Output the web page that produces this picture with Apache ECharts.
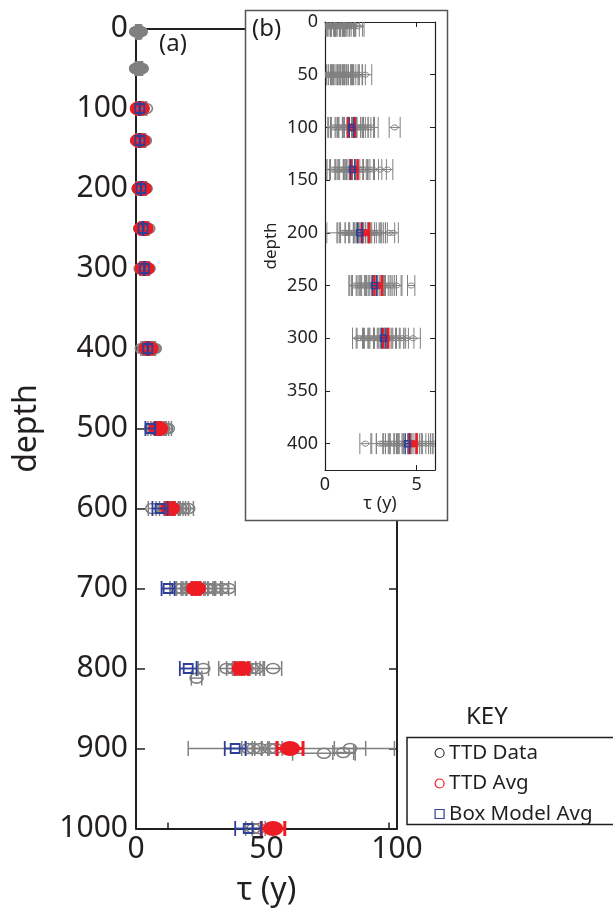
<!DOCTYPE html>
<html>
<head>
<meta charset="utf-8">
<script src="https://cdn.jsdelivr.net/npm/echarts@6/dist/echarts.min.js"></script>
<style>
html, body { margin: 0; padding: 0; background: #fff; }
#main { width: 613px; height: 912px; }
</style>
</head>
<body>
<div id="main"></div>
<script>
// TTD data per depth: [tau, error]  (an optional 3rd entry shifts the depth)
const ttd004 = [[0.1,0.2],[0.18,0.35],[0.25,0.3],[0.33,0.45],[0.4,0.25],[0.46,0.4],[0.52,0.3],[0.6,0.5],[0.66,0.35],[0.71,0.25],[0.8,0.45],[0.86,0.3],[0.93,0.4],[1.0,0.35],[1.07,0.5],[1.13,0.3],[1.22,0.4],[1.3,0.35],[1.38,0.3],[1.47,0.4],[1.58,0.55],[1.8,0.25]];
const ttd050 = [[0.05,0.3],[0.15,0.4],[0.22,0.25],[0.3,0.45],[0.38,0.3],[0.45,0.5],[0.52,0.35],[0.6,0.4],[0.68,0.3],[0.75,0.45],[0.83,0.35],[0.9,0.5],[0.98,0.3],[1.05,0.4],[1.12,0.45],[1.2,0.35],[1.3,0.5],[1.38,0.3],[1.47,0.4],[1.6,0.45],[1.72,0.3],[1.85,0.35],[2.2,0.35]];
const ttd100 = [[0.45,0.3],[0.6,0.4],[0.7,0.35],[0.8,0.5],[0.9,0.3],[1.0,0.45],[1.1,0.35],[1.18,0.5],[1.25,0.3],[1.35,0.4],[1.5,0.45],[1.6,0.35],[1.7,0.5],[1.8,0.3],[1.9,0.45],[2.0,0.35],[2.1,0.4],[2.2,0.5],[2.35,0.3],[2.5,0.4],[3.8,0.3]];
const ttd140 = [[0.4,0.3],[0.55,0.45],[0.65,0.35],[0.75,0.5],[0.85,0.3],[0.95,0.4],[1.05,0.45],[1.15,0.35],[1.25,0.5],[1.35,0.3],[1.5,0.4],[1.62,0.45],[1.72,0.35],[1.85,0.5],[1.95,0.3],[2.05,0.4],[2.2,0.45],[2.4,0.3],[2.62,0.3],[3.0,0.35],[3.4,0.3]];
const ttd200 = [[1.0,0.3],[1.1,0.45],[1.2,0.35],[1.3,0.5],[1.4,0.3],[1.5,0.4],[1.6,1.5],[1.7,0.35],[1.8,0.5],[1.9,0.3],[2.0,0.45],[2.1,0.4],[2.2,0.35],[2.3,0.5],[2.4,0.3],[2.5,0.45],[2.6,0.4],[2.7,0.35],[2.85,0.45],[3.0,0.3],[3.5,0.3],[3.7,0.3]];
const ttd250 = [[1.6,0.3],[1.75,0.4],[1.85,0.35],[1.95,0.5],[2.05,0.3],[2.15,0.45],[2.25,0.4],[2.35,0.35],[2.45,0.5],[2.55,0.3],[2.7,0.45],[2.8,0.4],[2.95,0.35],[3.05,0.5],[3.15,0.3],[3.25,0.45],[3.4,0.4],[3.55,0.35],[3.7,0.45],[3.9,0.3],[4.7,0.2]];
const ttd300 = [[1.8,0.3],[1.95,0.45],[2.1,0.35],[2.2,0.5],[2.35,0.3],[2.45,0.4],[2.6,0.45],[2.7,0.35],[2.85,0.5],[2.95,0.3],[3.05,0.4],[3.15,0.45],[3.3,0.35],[3.4,0.5],[3.55,0.3],[3.7,0.4],[3.85,0.45],[4.0,0.3],[4.2,0.35],[4.45,0.4],[4.8,0.4]];
const ttd400 = [[2.2,0.3],[3.0,0.45],[3.15,0.35],[3.3,0.5],[3.45,0.3],[3.6,0.4],[3.75,0.45],[3.9,0.35],[4.05,0.5],[4.2,0.3],[4.35,0.4],[4.5,0.45],[4.65,0.35],[4.8,0.5],[4.95,0.3],[5.1,0.4],[5.3,0.45],[5.5,0.35],[5.7,0.4],[5.95,0.3],[6.3,0.4],[6.8,0.35],[7.2,0.3]];
const ttd500 = [[5.8,1.2],[7.2,1.5],[8.0,1.0],[9.5,1.8],[10.4,1.2],[11.5,1.0],[12.2,1.4]];
const ttd600 = [[6.2,1.5],[11.0,2.0],[12.5,1.8],[14.0,2.2],[15.2,1.5],[17.0,2.0],[18.5,1.6],[20.0,2.0]];
const ttd700 = [[15.5,2.5],[17.5,2.0],[19.5,2.2],[21.0,2.0],[24.0,2.5],[25.5,2.0],[27.0,2.5],[28.0,2.0],[30.0,2.4],[33.0,2.5],[35.5,2.5]];
const ttd800 = [[25.8,2.0],[23.2,2.0,812],[34.7,3.0],[37.2,2.5],[40.0,3.0],[42.4,3.5],[44.5,3.0],[46.2,2.5],[52.5,3.3]];
const ttd900 = [[43.0,2.5],[45.0,3.0],[47.5,3.0],[51.3,3.0],[53.5,2.5],[59.5,39.5],[72.0,12.0,906],[79.4,4.0,905],[82.0,6.0]];
const ttd1000 = [[45.0,3.0],[47.0,2.5]];

const ttdDepths = [4, 50, 100, 140, 200, 250, 300, 400, 500, 600, 700, 800, 900, 1000];
const ttdRows = [ttd004, ttd050, ttd100, ttd140, ttd200, ttd250, ttd300, ttd400, ttd500, ttd600, ttd700, ttd800, ttd900, ttd1000];

// averages
const avgDepths = [100, 140, 200, 250, 300, 400, 500, 600, 700, 800, 900, 1000];
const ttdAvgTau = [1.45, 1.6, 2.2, 2.9, 3.3, 4.8, 8.5, 13.0, 23.0, 40.5, 59.0, 52.5];
const ttdAvgErr = [0.18, 0.18, 0.2, 0.2, 0.15, 0.2, 1.0, 1.5, 1.5, 2.5, 5.0, 4.5];
const boxAvgTau = [1.45, 1.5, 1.9, 2.7, 3.2, 4.5, 5.5, 9.2, 12.3, 20.0, 38.0, 43.0];
const boxAvgErr = [0.12, 0.12, 0.12, 0.12, 0.12, 0.12, 1.9, 2.9, 2.5, 3.2, 4.0, 5.0];

const mainTicksX = [12, 97];
const insetDepthTicks = [0, 50, 100, 150, 200, 250, 300, 350, 400];
const insetTauTicks = [0, 5];

const INK = '#231f20', GREY = '#808080', RED = '#ed1c24', BLUE = '#2e3f97';
const FONT = 'Noto Sans';

function ttdBars(maxDepth) {
  const bars = [];
  ttdRows.forEach((row, i) => {
    if (ttdDepths[i] > maxDepth) return;
    row.forEach(r => {
      const d = r[2] ?? ttdDepths[i];
      bars.push([r[0], d, r[0] - r[1], r[0] + r[1]]);
    });
  });
  return bars;
}
function avgBars(tau, err, maxDepth) {
  const bars = [];
  avgDepths.forEach((d, i) => {
    if (d > maxDepth) return;
    bars.push([tau[i], d, tau[i] - err[i], tau[i] + err[i]]);
  });
  return bars;
}

// error bar with end caps plus the marker, all through the axis scales
function markRender(opt) {
  return (params, api) => {
    const d = api.value(1);
    const c = api.coord([api.value(0), d]);
    const a = api.coord([api.value(2), d]);
    const b = api.coord([api.value(3), d]);
    const h = opt.cap / 2;
    const bar = { stroke: opt.color, lineWidth: opt.lw, fill: null };
    const mk = { stroke: opt.color, lineWidth: opt.bw, fill: 'rgba(0,0,0,0)' };
    const marker = opt.rect
      ? { type: 'rect', shape: { x: c[0] - opt.w / 2, y: c[1] - opt.h / 2, width: opt.w, height: opt.h }, style: mk }
      : { type: 'ellipse', shape: { cx: c[0], cy: c[1], rx: opt.w / 2, ry: opt.h / 2 }, style: mk };
    return {
      type: 'group',
      children: [
        { type: 'line', shape: { x1: a[0], y1: a[1], x2: b[0], y2: b[1] }, style: bar },
        { type: 'line', shape: { x1: a[0], y1: a[1] - h, x2: a[0], y2: a[1] + h }, style: bar },
        { type: 'line', shape: { x1: b[0], y1: b[1] - h, x2: b[0], y2: b[1] + h }, style: bar },
        marker,
      ],
    };
  };
}

function layerSeries(xi, yi, maxDepth, sz, z, clip) {
  const base = { type: 'custom', xAxisIndex: xi, yAxisIndex: yi, clip: clip, silent: true, animation: false,
    encode: { x: 0, y: 1 } };
  return [
    { ...base, name: 'TTD Data', z: z, data: ttdBars(maxDepth),
      renderItem: markRender({ color: GREY, cap: sz.cap, lw: sz.lw, w: sz.grey[0], h: sz.grey[1], bw: sz.greyBw }) },
    { ...base, name: 'TTD Avg', z: z + 1, data: avgBars(ttdAvgTau, ttdAvgErr, maxDepth),
      renderItem: markRender({ color: RED, cap: sz.cap, lw: sz.redLw, w: sz.red[0], h: sz.red[1], bw: sz.redBw }) },
    { ...base, name: 'Box Model Avg', z: z + 2, data: avgBars(boxAvgTau, boxAvgErr, maxDepth),
      renderItem: markRender({ color: BLUE, cap: sz.cap, lw: sz.blueLw, w: sz.blue[0], h: sz.blue[1], bw: sz.blueBw, rect: true }) },
  ];
}

const mainSize = { cap: 15, lw: 1.5, grey: [13, 10], greyBw: 1.6, red: [14, 9], redBw: 6, redLw: 3, blue: [9, 9], blueBw: 1.8, blueLw: 1.8 };
const insetSize = { cap: 21, lw: 1, grey: [7, 5], greyBw: 1, red: [6, 5], redBw: 2.5, redLw: 2.5, blue: [6, 6], blueBw: 1.5, blueLw: 1.2 };

const plain = v => String(v);

const chart = echarts.init(document.getElementById('main'), null, { renderer: 'canvas' });
chart.setOption({
  animation: false,
  backgroundColor: '#fff',
  textStyle: { fontFamily: FONT },
  grid: [
    { left: 136, top: 28.5, width: 261, height: 800 },
    { left: 325, top: 22, width: 110, height: 448 },
  ],
  xAxis: [
    { gridIndex: 0, type: 'value', min: 0, max: 100, interval: 50, position: 'bottom', z: 0,
      name: 'τ (y)', nameLocation: 'middle', nameGap: 46,
      nameTextStyle: { fontSize: 32, color: INK, fontFamily: FONT },
      axisLine: { onZero: false, lineStyle: { color: INK, width: 2 } },
      axisTick: { inside: true, length: 6, customValues: mainTicksX, lineStyle: { color: INK, width: 1.5 } },
      axisLabel: { fontSize: 30, color: INK, margin: 6, fontFamily: FONT, formatter: plain },
      splitLine: { show: false } },
    { gridIndex: 0, type: 'value', min: 0, max: 100, position: 'top', z: 0,
      axisLine: { onZero: false, lineStyle: { color: INK, width: 2 } },
      axisTick: { show: false }, axisLabel: { show: false }, splitLine: { show: false } },
    { gridIndex: 1, type: 'value', min: 0, max: 6, position: 'bottom', z: 4,
      name: 'τ (y)', nameLocation: 'middle', nameGap: 25,
      nameTextStyle: { fontSize: 18, color: INK, fontFamily: FONT },
      axisLine: { onZero: false, lineStyle: { color: INK, width: 1.2 } },
      axisTick: { inside: true, length: 5, customValues: insetTauTicks, lineStyle: { color: INK } },
      axisLabel: { fontSize: 18, color: INK, margin: 6, customValues: insetTauTicks, fontFamily: FONT, formatter: plain },
      splitLine: { show: false } },
    { gridIndex: 1, type: 'value', min: 0, max: 6, position: 'top', z: 4,
      axisLine: { onZero: false, lineStyle: { color: INK, width: 1.2 } },
      axisTick: { inside: true, length: 5, customValues: insetTauTicks, lineStyle: { color: INK } },
      axisLabel: { show: false }, splitLine: { show: false } },
  ],
  yAxis: [
    { gridIndex: 0, type: 'value', min: 0, max: 1000, interval: 100, inverse: true, position: 'left', z: 0,
      name: 'depth', nameLocation: 'middle', nameGap: 93,
      nameTextStyle: { fontSize: 32, color: INK, fontFamily: FONT },
      axisLine: { onZero: false, lineStyle: { color: INK, width: 2 } },
      axisTick: { inside: true, length: 9, lineStyle: { color: INK, width: 1.5 } },
      axisLabel: { fontSize: 30, color: INK, margin: 8, fontFamily: FONT, formatter: plain },
      splitLine: { show: false } },
    { gridIndex: 0, type: 'value', min: 0, max: 1000, interval: 100, inverse: true, position: 'right', z: 0,
      axisLine: { onZero: false, lineStyle: { color: INK, width: 2 } },
      axisTick: { inside: true, length: 8, lineStyle: { color: INK, width: 1.5 } },
      axisLabel: { show: false }, splitLine: { show: false } },
    { gridIndex: 1, type: 'value', min: 0, max: 425, inverse: true, position: 'left', z: 4,
      name: 'depth', nameLocation: 'middle', nameGap: 45,
      nameTextStyle: { fontSize: 17, color: INK, fontFamily: FONT },
      axisLine: { onZero: false, lineStyle: { color: INK, width: 1.2 } },
      axisTick: { inside: true, length: 5, customValues: insetDepthTicks, lineStyle: { color: INK } },
      axisLabel: { fontSize: 18, color: INK, margin: 7, customValues: insetDepthTicks, fontFamily: FONT, formatter: plain },
      splitLine: { show: false } },
    { gridIndex: 1, type: 'value', min: 0, max: 425, inverse: true, position: 'right', z: 4,
      axisLine: { onZero: false, lineStyle: { color: INK, width: 1.2 } },
      axisTick: { inside: true, length: 5, customValues: insetDepthTicks, lineStyle: { color: INK } },
      axisLabel: { show: false }, splitLine: { show: false } },
  ],
  legend: {
    orient: 'vertical', left: 407, top: 737.5,
    padding: [5, 120, 0, 27.5],
    borderColor: INK, borderWidth: 1.5,
    itemWidth: 9, itemHeight: 9, itemGap: 9.5,
    textStyle: { fontSize: 20.5, color: INK, lineHeight: 20, fontFamily: FONT },
    selectedMode: false,
    data: [
      { name: 'TTD Data', icon: 'circle', itemStyle: { color: '#fff', borderColor: '#333', borderWidth: 1.2 } },
      { name: 'TTD Avg', icon: 'circle', itemStyle: { color: '#fff', borderColor: RED, borderWidth: 1.2 } },
      { name: 'Box Model Avg', icon: 'rect', itemStyle: { color: '#fff', borderColor: BLUE, borderWidth: 1.2 } },
    ],
  },
  graphic: [
    { type: 'rect', z: 3, shape: { x: 245.5, y: 10.5, width: 202, height: 510 },
      style: { fill: '#fff', stroke: '#555', lineWidth: 1.5 } },
    { type: 'text', z: 3, left: 159, top: 32, style: { text: '(a)', fontSize: 24, fill: INK, fontFamily: FONT } },
    { type: 'text', z: 4, left: 252, top: 17, style: { text: '(b)', fontSize: 24, fill: INK, fontFamily: FONT } },
    { type: 'text', z: 4, left: 466, top: 705, style: { text: 'KEY', fontSize: 24, fill: INK, fontFamily: FONT } },
  ],
  series: [
    ...layerSeries(0, 0, 1000, mainSize, 1, false),
    ...layerSeries(2, 2, 425, insetSize, 5, true),
  ],
});
</script>
</body>
</html>
